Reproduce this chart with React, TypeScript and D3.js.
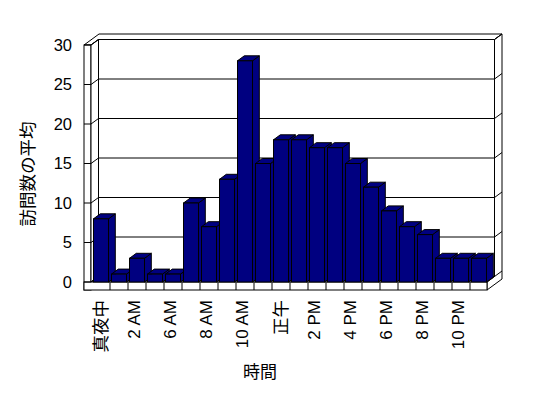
import React from "react";
import * as d3 from "d3";

const categories = ["真夜中","1 AM","2 AM","5 AM","6 AM","7 AM","8 AM","9 AM","10 AM","11 AM","正午","1 PM","2 PM","3 PM","4 PM","5 PM","6 PM","7 PM","8 PM","9 PM","10 PM","11 PM"];
const visits = [8,1,3,1,1,10,7,13,28,15,18,18,17,17,15,12,9,7,6,3,3,3];
const yTicks = [0,5,10,15,20,25,30];
const yTitle = "訪問数の平均";
const xTitle = "時間";

const W = 548, H = 398;
const X0 = 92, X1 = 488;       // category span (front plane)
const XR = 487;                 // right end of floor/back wall (front)
const XL = 84;                  // left wall outer edge
const XI = 91;                  // left wall inner edge
const Y0 = 282, YT = 45;        // value 0 / value 30 on front plane
const FB = 290;                 // floor bottom
const DX = 7.5, DY = -5.5;      // wall depth unit
const BDX = 6.8, BDY = -5;      // bar depth

const pts = (a: number[][]) => a.map(p => p.join(",")).join(" ");

export default function App() {
  const y = d3.scaleLinear().domain([0, 30]).range([Y0, YT]);
  const x = d3.scaleBand<string>().domain(categories).range([X0, X1]).paddingInner(0).paddingOuter(0);
  const bw = x.bandwidth();
  const barW = bw * (15 / 18);
  const barOff = (bw - barW) / 2;
  const cjk = "'Noto Sans CJK JP', sans-serif";
  const lat = "'Liberation Sans', Arial, sans-serif";
  const s = { fill: "#fff", stroke: "#000", strokeWidth: 1 } as const;
  const isLatin = (c: string) => /[A-Z0-9]/.test(c);

  return (
    <svg width={W} height={H} viewBox={`0 0 ${W} ${H}`} style={{ position: "absolute", left: 0, top: 0, background: "#fff" }}>
      {/* back wall front face */}
      <polygon points={pts([[XI + DX, YT + DY], [XR + DX, YT + DY], [XR + DX, Y0 + DY], [XI + DX, Y0 + DY]])} {...s} />
      {/* top of walls */}
      <polygon points={pts([[XL, YT], [XI, YT], [XI + DX, YT + DY], [XR + DX, YT + DY], [XR + 2 * DX, YT + 2 * DY], [XL + 2 * DX, YT + 2 * DY]])} {...s} />
      {/* right end face */}
      <polygon points={pts([[XR + DX, YT + DY], [XR + 2 * DX, YT + 2 * DY], [XR + 2 * DX, FB + 2 * DY], [XR, FB], [XR, Y0], [XR + DX, Y0 + DY]])} {...s} />
      {/* left wall front face */}
      <rect x={XL} y={YT} width={XI - XL} height={FB - YT} {...s} />
      {/* left wall inner face */}
      <polygon points={pts([[XI, YT], [XI + DX, YT + DY], [XI + DX, Y0 + DY], [XI, Y0]])} {...s} />
      {/* floor top */}
      <polygon points={pts([[XI, Y0], [XR, Y0], [XR + DX, Y0 + DY], [XI + DX, Y0 + DY]])} {...s} />
      {/* floor front face */}
      <rect x={XL} y={Y0} width={XR - XL} height={FB - Y0} {...s} />
      {categories.slice(1).map((c) => (
        <line key={"d" + c} x1={x(c)!} x2={x(c)!} y1={Y0} y2={FB} stroke="#000" />
      ))}
      {/* gridlines */}
      {yTicks.map((v) => {
        const yy = y(v);
        return (
          <g key={"g" + v} stroke="#000" fill="none">
            <polyline points={pts([[XL, yy], [XI, yy], [XI + DX, yy + DY], [XR + DX, yy + DY], [XR + 2 * DX, yy + 2 * DY]])} />
          </g>
        );
      })}
      {/* bars */}
      {visits.map((v, i) => {
        const c = categories[i];
        const x0 = x(c)! + barOff, x1 = x0 + barW;
        const yt = y(v), yb = Y0;
        const bs = { fill: "#000080", stroke: "#000", strokeWidth: 1, strokeLinejoin: "miter" as const };
        return (
          <g key={"b" + i}>
            <polygon points={pts([[x1, yt], [x1 + BDX, yt + BDY], [x1 + BDX, yb + BDY], [x1, yb]])} {...bs} />
            <polygon points={pts([[x0, yt], [x1, yt], [x1 + BDX, yt + BDY], [x0 + BDX, yt + BDY]])} {...bs} />
            <rect x={x0} y={yt} width={barW} height={yb - yt} {...bs} />
          </g>
        );
      })}
      {/* y tick labels */}
      {yTicks.map((v) => (
        <text key={"t" + v} x={72} y={y(v)} dy="0.36em" textAnchor="end" fontFamily={lat} fontSize={16.5} fill="#000">{v}</text>
      ))}
      {/* x tick labels */}
      {categories.map((c, i) => i % 2 === 0 ? (
        <text key={"x" + c} transform={`translate(${x(c)! + bw / 2 - (isLatin(c) ? 3.5 : 0)},${300}) rotate(-90)`} dy="0.36em" textAnchor="end"
          fontFamily={isLatin(c) ? lat : cjk} fontSize={isLatin(c) ? 17 : 17.5} fill="#000">{c}</text>
      ) : null)}
      {/* axis titles */}
      <text transform={`translate(28,174) rotate(-90)`} dy="0.36em" textAnchor="middle" fontFamily={cjk} fontSize={17.5} fill="#000">{yTitle}</text>
      <text x={260} y={372} dy="0.36em" textAnchor="middle" fontFamily={cjk} fontSize={17} fill="#000">{xTitle}</text>
    </svg>
  );
}
